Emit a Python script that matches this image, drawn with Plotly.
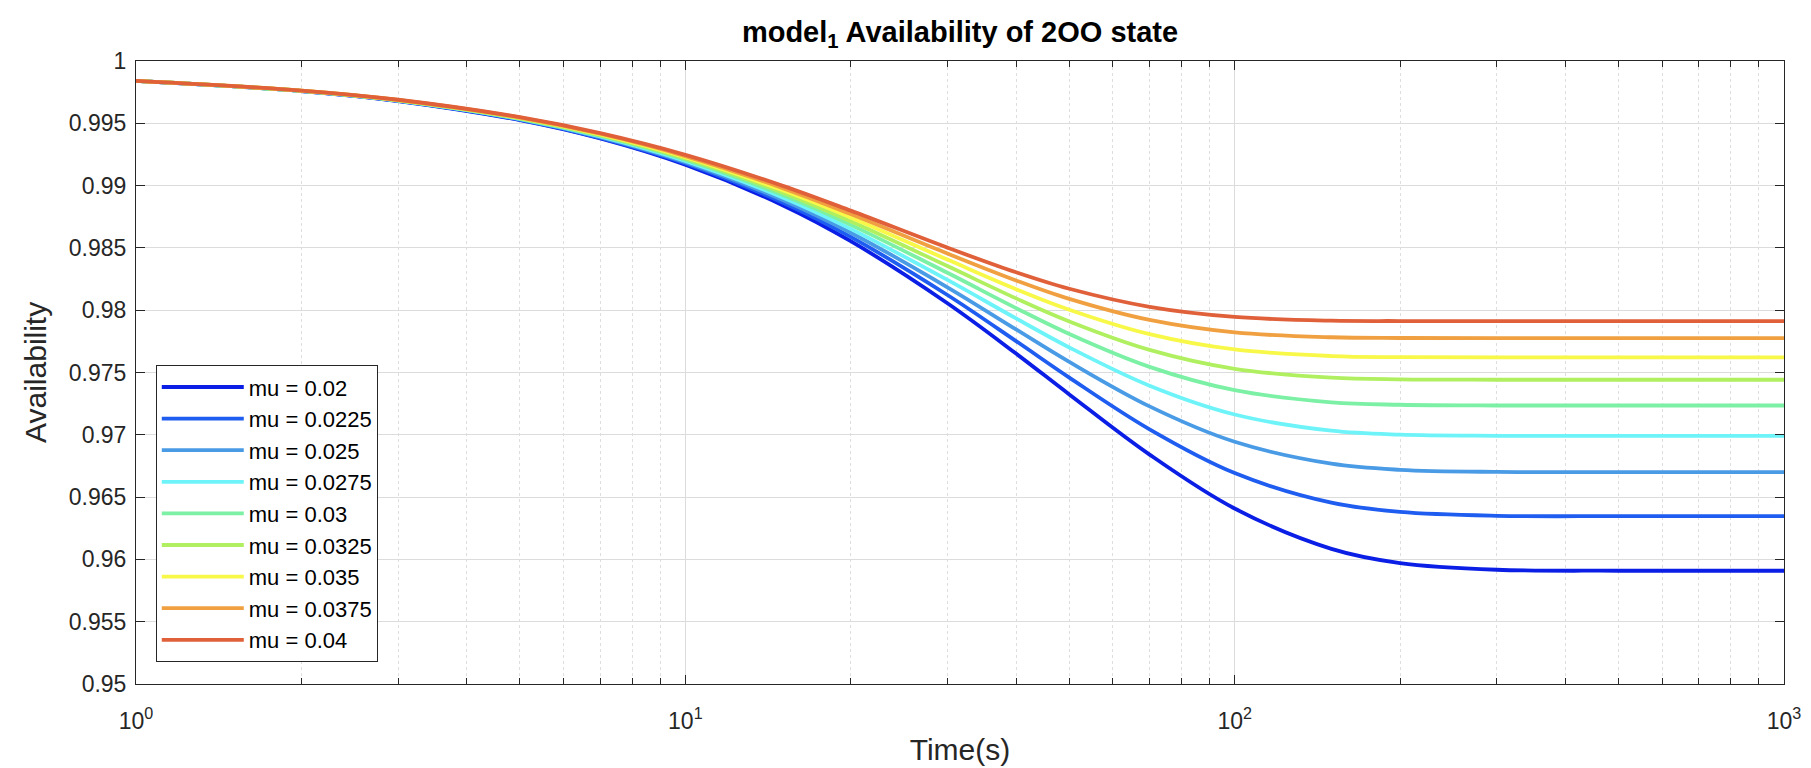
import plotly.graph_objects as go

# Time points (s)
time_s = [1, 2, 3, 5, 7, 10, 15, 20, 30, 40, 50, 70, 100, 150, 200, 300, 500, 1000]

mu_labels = ["mu = 0.02", "mu = 0.0225", "mu = 0.025", "mu = 0.0275", "mu = 0.03",
             "mu = 0.0325", "mu = 0.035", "mu = 0.0375", "mu = 0.04"]

avail_mu_0200 = [0.9984, 0.99759, 0.99679, 0.99525, 0.99378, 0.99167, 0.98845, 0.98554, 0.98056,
                 0.97652, 0.97324, 0.96841, 0.96408, 0.96085, 0.95971, 0.95917, 0.95909, 0.95909]
avail_mu_0225 = [0.9984, 0.99759, 0.99681, 0.99529, 0.99383, 0.99178, 0.98866, 0.98588, 0.98122,
                 0.97752, 0.97459, 0.97044, 0.96693, 0.96455, 0.96381, 0.96350, 0.96347, 0.96347]
avail_mu_0250 = [0.9984, 0.99760, 0.99682, 0.99532, 0.99389, 0.99188, 0.98887, 0.98622, 0.98184,
                 0.97846, 0.97585, 0.97228, 0.96944, 0.96768, 0.96719, 0.96702, 0.96701, 0.96701]
avail_mu_0275 = [0.9984, 0.99760, 0.99683, 0.99535, 0.99394, 0.99198, 0.98907, 0.98653, 0.98243,
                 0.97934, 0.97701, 0.97394, 0.97163, 0.97033, 0.97001, 0.96992, 0.96991, 0.96991]
avail_mu_0300 = [0.9984, 0.99761, 0.99684, 0.99538, 0.99400, 0.99208, 0.98926, 0.98685, 0.98300,
                 0.98017, 0.97809, 0.97545, 0.97358, 0.97261, 0.97241, 0.97235, 0.97235, 0.97235]
avail_mu_0325 = [0.9984, 0.99761, 0.99685, 0.99540, 0.99405, 0.99218, 0.98945, 0.98714, 0.98354,
                 0.98095, 0.97910, 0.97682, 0.97530, 0.97459, 0.97445, 0.97442, 0.97442, 0.97442]
avail_mu_0350 = [0.9984, 0.99762, 0.99686, 0.99544, 0.99410, 0.99228, 0.98964, 0.98744, 0.98406,
                 0.98169, 0.98004, 0.97808, 0.97685, 0.97632, 0.97623, 0.97621, 0.97621, 0.97621]
avail_mu_0375 = [0.9984, 0.99762, 0.99688, 0.99546, 0.99416, 0.99237, 0.98982, 0.98772, 0.98455,
                 0.98239, 0.98091, 0.97922, 0.97822, 0.97783, 0.97777, 0.97776, 0.97776, 0.97776]
avail_mu_0400 = [0.9984, 0.99763, 0.99689, 0.99549, 0.99421, 0.99247, 0.99000, 0.98799, 0.98502,
                 0.98304, 0.98172, 0.98027, 0.97946, 0.97916, 0.97913, 0.97912, 0.97912, 0.97912]

series = [avail_mu_0200, avail_mu_0225, avail_mu_0250, avail_mu_0275, avail_mu_0300,
          avail_mu_0325, avail_mu_0350, avail_mu_0375, avail_mu_0400]

colors = ["#0a1ee6", "#1f5cf0", "#4a9be6", "#6ef4f8", "#7cf0a4",
          "#b0f060", "#f8f848", "#f0a040", "#e0603a"]

y_tickvals = [0.95, 0.955, 0.96, 0.965, 0.97, 0.975, 0.98, 0.985, 0.99, 0.995, 1.0]
y_ticktext = ["0.95", "0.955", "0.96", "0.965", "0.97", "0.975", "0.98", "0.985", "0.99", "0.995", "1"]
x_tickvals = [1, 10, 100, 1000]
x_ticktext = ["10<sup>0</sup>", "10<sup>1</sup>", "10<sup>2</sup>", "10<sup>3</sup>"]

FONT = "Liberation Sans, Arial, Helvetica, sans-serif"

fig = go.Figure()
for name, vals, col in zip(mu_labels, series, colors):
    fig.add_trace(go.Scatter(x=time_s, y=vals, mode="lines", name=name,
                             line=dict(color=col, width=3.8, shape="spline", smoothing=1.0)))

fig.update_layout(
    width=1811, height=768,
    margin=dict(l=128, r=35, t=53, b=92),
    paper_bgcolor="white", plot_bgcolor="white",
    font=dict(family=FONT, size=23, color="#262626"),
    title=dict(text="<b>model<sub>1</sub> Availability of 2OO state</b>",
               x=0.5, xref="paper", xanchor="center",
               y=1 - 24 / 768, yref="container", yanchor="middle",
               font=dict(family=FONT, size=29, color="#000000")),
    showlegend=True,
    legend=dict(x=0.012, y=0.035, xanchor="left", yanchor="bottom",
                bgcolor="white", bordercolor="#262626", borderwidth=1,
                font=dict(family=FONT, size=22, color="#000000"),
                tracegroupgap=0, itemwidth=82),
    annotations=[dict(text="Availability", textangle=-90, showarrow=False,
                      xref="paper", yref="paper", x=-0.061, y=0.5,
                      xanchor="center", yanchor="middle",
                      font=dict(family=FONT, size=30, color="#262626"))],
)

fig.update_xaxes(
    type="log", range=[0, 3],
    tickvals=x_tickvals, ticktext=x_ticktext,
    ticks="inside", ticklen=9, tickcolor="#262626", tickwidth=1,
    showline=True, linecolor="#262626", linewidth=1, mirror="ticks",
    showgrid=True, gridcolor="#dcdcdc", gridwidth=1,
    minor=dict(ticks="inside", ticklen=6, tickcolor="#262626", dtick="D1",
               showgrid=True, gridcolor="#dedede", griddash="dot", gridwidth=1),
    zeroline=False,
    ticklabelstandoff=16,
    title=dict(text="Time(s)", standoff=6, font=dict(family=FONT, size=30, color="#262626")),
    tickfont=dict(family=FONT, size=23, color="#262626"),
)

fig.update_yaxes(
    range=[0.95, 1.0],
    tickvals=y_tickvals, ticktext=y_ticktext,
    ticks="inside", ticklen=9, tickcolor="#262626", tickwidth=1,
    showline=True, linecolor="#262626", linewidth=1, mirror="ticks",
    showgrid=True, gridcolor="#dcdcdc", gridwidth=1,
    zeroline=False,
    ticklabelstandoff=4,
    tickfont=dict(family=FONT, size=23, color="#262626"),
)

fig.write_html("out.html")
